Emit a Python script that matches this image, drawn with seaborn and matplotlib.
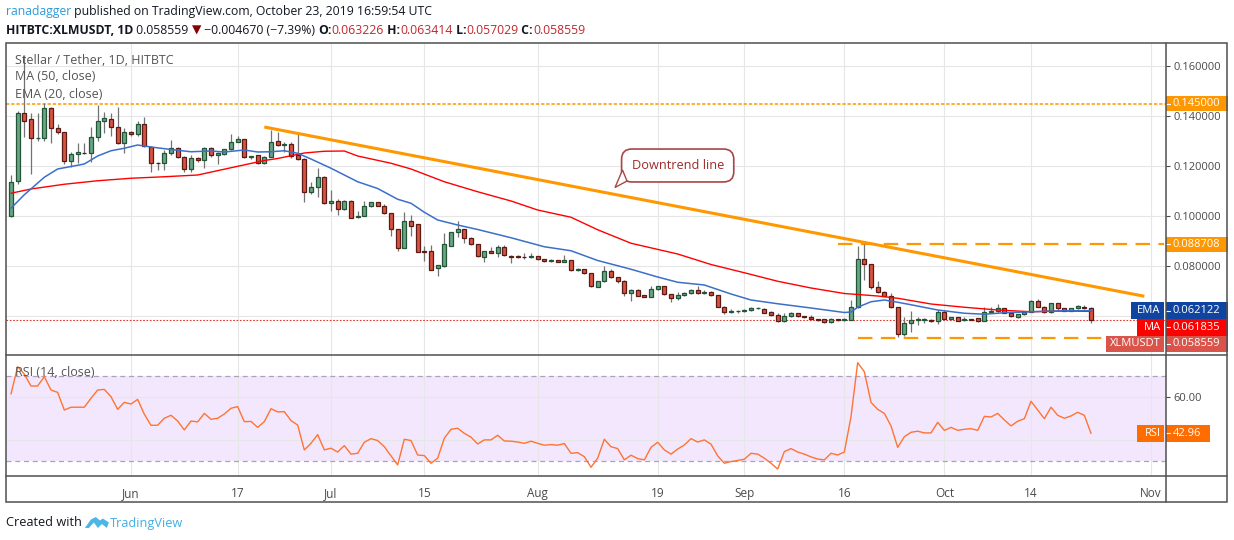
import matplotlib
matplotlib.use("Agg")
import numpy as np
import pandas as pd
import seaborn as sns
import matplotlib.pyplot as plt
import matplotlib.dates as mdates
from matplotlib.patches import Rectangle, Polygon
from matplotlib.lines import Line2D

# ---------------- data ----------------
first_day = "2019-05-14"

opens = [
    0.1000, 0.1140, 0.1411, 0.1387, 0.1311, 0.1314, 0.1431, 0.1351, 0.1335, 0.1220,
    0.1248, 0.1253, 0.1253, 0.1317, 0.1381, 0.1387, 0.1355, 0.1291, 0.1335, 0.1328,
    0.1368, 0.1275, 0.1213, 0.1211, 0.1251, 0.1271, 0.1237, 0.1187, 0.1233, 0.1224,
    0.1271, 0.1244, 0.1248, 0.1267, 0.1297, 0.1307, 0.1235, 0.1243, 0.1211, 0.1237,
    0.1300, 0.1284, 0.1288, 0.1244, 0.1227, 0.1095, 0.1117, 0.1155, 0.1051, 0.1060,
    0.1028, 0.1060, 0.0995, 0.1000, 0.1040, 0.1055, 0.1040, 0.1011, 0.0948, 0.0871,
    0.0980, 0.0967, 0.0861, 0.0860, 0.0791, 0.0800, 0.0881, 0.0935, 0.0948, 0.0913,
    0.0887, 0.0838, 0.0860, 0.0853, 0.0877, 0.0841, 0.0840, 0.0836, 0.0835, 0.0840,
    0.0827, 0.0820, 0.0823, 0.0817, 0.0824, 0.0784, 0.0788, 0.0771, 0.0718, 0.0740,
    0.0781, 0.0755, 0.0741, 0.0691, 0.0704, 0.0684, 0.0677, 0.0707, 0.0720, 0.0687,
    0.0671, 0.0684, 0.0691, 0.0704, 0.0691, 0.0697, 0.0684, 0.0637, 0.0615, 0.0619,
    0.0620, 0.0623, 0.0631, 0.0628, 0.0617, 0.0604, 0.0580, 0.0601, 0.0611, 0.0600,
    0.0595, 0.0587, 0.0587, 0.0576, 0.0587, 0.0584, 0.0585, 0.0635, 0.0827, 0.0807,
    0.0717, 0.0695, 0.0681, 0.0635, 0.0527, 0.0571, 0.0584, 0.0585, 0.0584, 0.0580,
    0.0617, 0.0587, 0.0595, 0.0584, 0.0587, 0.0591, 0.0581, 0.0617, 0.0620, 0.0631,
    0.0613, 0.0595, 0.0608, 0.0617, 0.0660, 0.0637, 0.0615, 0.0651, 0.0631, 0.0621,
    0.0631, 0.0637, 0.063226,
]
highs = [
    0.1164, 0.1421, 0.1644, 0.1411, 0.1411, 0.1453, 0.1435, 0.1367, 0.1337, 0.1257,
    0.1291, 0.1291, 0.1355, 0.1444, 0.1415, 0.1411, 0.1436, 0.1351, 0.1340, 0.1381,
    0.1397, 0.1280, 0.1215, 0.1264, 0.1304, 0.1277, 0.1241, 0.1244, 0.1237, 0.1277,
    0.1277, 0.1255, 0.1270, 0.1328, 0.1320, 0.1310, 0.1240, 0.1245, 0.1240, 0.1344,
    0.1337, 0.1297, 0.1295, 0.1333, 0.1234, 0.1137, 0.1191, 0.1160, 0.1104, 0.1067,
    0.1064, 0.1064, 0.1021, 0.1061, 0.1057, 0.1058, 0.1048, 0.1013, 0.0950, 0.1017,
    0.1004, 0.0968, 0.0880, 0.0884, 0.0806, 0.0931, 0.0937, 0.0980, 0.0950, 0.0917,
    0.0888, 0.0862, 0.0877, 0.0884, 0.0884, 0.0845, 0.0843, 0.0851, 0.0853, 0.0842,
    0.0830, 0.0827, 0.0826, 0.0844, 0.0826, 0.0791, 0.0790, 0.0773, 0.0741, 0.0800,
    0.0787, 0.0758, 0.0745, 0.0707, 0.0707, 0.0686, 0.0720, 0.0722, 0.0722, 0.0689,
    0.0697, 0.0697, 0.0707, 0.0720, 0.0704, 0.0699, 0.0686, 0.0639, 0.0627, 0.0624,
    0.0627, 0.0636, 0.0637, 0.0631, 0.0619, 0.0611, 0.0611, 0.0615, 0.0613, 0.0602,
    0.0604, 0.0589, 0.0589, 0.0591, 0.0589, 0.0591, 0.0664, 0.0880, 0.0888, 0.0810,
    0.0740, 0.0701, 0.0691, 0.0637, 0.0597, 0.0620, 0.0595, 0.0591, 0.0587, 0.0624,
    0.0624, 0.0597, 0.0597, 0.0595, 0.0589, 0.0593, 0.0635, 0.0635, 0.0648, 0.0633,
    0.0615, 0.0610, 0.0619, 0.0664, 0.0667, 0.0639, 0.0653, 0.0653, 0.0633, 0.0633,
    0.0644, 0.0646, 0.063414,
]
lows = [
    0.0996, 0.1130, 0.1317, 0.1168, 0.1300, 0.1300, 0.1291, 0.1330, 0.1208, 0.1197,
    0.1213, 0.1248, 0.1217, 0.1300, 0.1331, 0.1320, 0.1288, 0.1251, 0.1320, 0.1320,
    0.1275, 0.1177, 0.1184, 0.1184, 0.1244, 0.1231, 0.1177, 0.1177, 0.1215, 0.1191,
    0.1237, 0.1210, 0.1244, 0.1264, 0.1296, 0.1231, 0.1230, 0.1208, 0.1208, 0.1235,
    0.1280, 0.1257, 0.1231, 0.1225, 0.1057, 0.1088, 0.1077, 0.1048, 0.1021, 0.1004,
    0.1024, 0.0991, 0.0993, 0.1000, 0.1037, 0.1040, 0.1008, 0.0920, 0.0861, 0.0871,
    0.0921, 0.0857, 0.0821, 0.0784, 0.0760, 0.0797, 0.0880, 0.0917, 0.0891, 0.0884,
    0.0837, 0.0817, 0.0850, 0.0837, 0.0841, 0.0811, 0.0833, 0.0829, 0.0833, 0.0825,
    0.0818, 0.0818, 0.0815, 0.0815, 0.0782, 0.0780, 0.0769, 0.0717, 0.0715, 0.0738,
    0.0751, 0.0731, 0.0680, 0.0661, 0.0680, 0.0675, 0.0675, 0.0705, 0.0685, 0.0657,
    0.0664, 0.0681, 0.0690, 0.0689, 0.0690, 0.0681, 0.0635, 0.0607, 0.0613, 0.0611,
    0.0618, 0.0620, 0.0628, 0.0611, 0.0601, 0.0578, 0.0578, 0.0598, 0.0597, 0.0593,
    0.0585, 0.0580, 0.0574, 0.0574, 0.0582, 0.0581, 0.0583, 0.0633, 0.0744, 0.0707,
    0.0693, 0.0679, 0.0633, 0.0515, 0.0520, 0.0537, 0.0564, 0.0573, 0.0576, 0.0567,
    0.0585, 0.0585, 0.0579, 0.0581, 0.0583, 0.0576, 0.0579, 0.0613, 0.0618, 0.0611,
    0.0598, 0.0593, 0.0606, 0.0615, 0.0635, 0.0611, 0.0613, 0.0624, 0.0619, 0.0619,
    0.0629, 0.0630, 0.057029,
]
closes = [
    0.1137, 0.1411, 0.1381, 0.1311, 0.1314, 0.1431, 0.1351, 0.1335, 0.1221, 0.1247,
    0.1256, 0.1251, 0.1317, 0.1381, 0.1391, 0.1355, 0.1291, 0.1337, 0.1327, 0.1368,
    0.1280, 0.1213, 0.1211, 0.1251, 0.1271, 0.1237, 0.1187, 0.1233, 0.1224, 0.1273,
    0.1244, 0.1251, 0.1267, 0.1297, 0.1307, 0.1235, 0.1239, 0.1211, 0.1235, 0.1297,
    0.1284, 0.1290, 0.1241, 0.1227, 0.1095, 0.1117, 0.1155, 0.1051, 0.1060, 0.1028,
    0.1060, 0.0993, 0.1000, 0.1040, 0.1055, 0.1041, 0.1011, 0.0947, 0.0871, 0.0980,
    0.0961, 0.0857, 0.0858, 0.0784, 0.0804, 0.0887, 0.0935, 0.0948, 0.0911, 0.0887,
    0.0841, 0.0860, 0.0853, 0.0877, 0.0844, 0.0837, 0.0835, 0.0835, 0.0840, 0.0827,
    0.0820, 0.0823, 0.0817, 0.0824, 0.0784, 0.0788, 0.0771, 0.0720, 0.0740, 0.0781,
    0.0755, 0.0741, 0.0691, 0.0704, 0.0681, 0.0677, 0.0707, 0.0720, 0.0687, 0.0671,
    0.0684, 0.0693, 0.0704, 0.0691, 0.0696, 0.0684, 0.0637, 0.0615, 0.0620, 0.0621,
    0.0623, 0.0631, 0.0633, 0.0613, 0.0604, 0.0580, 0.0601, 0.0612, 0.0600, 0.0595,
    0.0587, 0.0583, 0.0576, 0.0587, 0.0584, 0.0585, 0.0635, 0.0827, 0.0807, 0.0717,
    0.0695, 0.0681, 0.0635, 0.0527, 0.0571, 0.0584, 0.0587, 0.0586, 0.0580, 0.0617,
    0.0587, 0.0595, 0.0581, 0.0587, 0.0585, 0.0581, 0.0617, 0.0620, 0.0631, 0.0613,
    0.0600, 0.0608, 0.0617, 0.0660, 0.0637, 0.0617, 0.0651, 0.0631, 0.0621, 0.0631,
    0.0639, 0.063226, 0.058559,
]
rsi = [
    61.5, 74.4, 70.9, 65.3, 65.3, 69.7, 63.4, 62.3, 54.0, 55.3,
    55.3, 55.3, 59.5, 63.4, 63.7, 60.3, 54.3, 57.6, 56.8, 59.0,
    52.0, 46.8, 46.8, 50.1, 51.5, 48.8, 44.6, 48.8, 48.4, 52.4,
    49.6, 50.1, 52.1, 54.8, 55.6, 48.5, 48.6, 45.8, 48.5, 54.6,
    53.1, 53.2, 49.0, 46.9, 35.2, 38.3, 42.4, 35.2, 36.0, 34.2,
    37.2, 33.2, 33.6, 38.8, 40.5, 39.6, 36.7, 32.4, 28.1, 40.2,
    39.6, 32.8, 32.5, 28.9, 31.3, 40.7, 44.9, 45.4, 43.0, 41.2,
    38.0, 39.9, 39.9, 42.1, 39.4, 39.3, 38.9, 38.3, 39.3, 38.3,
    37.4, 37.7, 37.4, 38.2, 33.6, 33.9, 32.0, 27.0, 31.3, 40.2,
    36.7, 35.8, 30.5, 32.7, 31.1, 30.5, 36.4, 38.8, 35.2, 33.2,
    35.6, 37.5, 40.5, 38.9, 39.9, 37.9, 32.4, 28.9, 29.7, 30.2,
    30.8, 33.6, 33.2, 31.3, 28.9, 26.2, 34.4, 35.8, 34.2, 33.2,
    31.9, 30.9, 30.5, 33.6, 32.8, 34.2, 50.9, 76.3, 72.0, 57.6,
    54.3, 52.4, 46.5, 36.4, 41.4, 43.5, 44.0, 43.2, 43.2, 48.2,
    44.4, 45.8, 44.4, 44.9, 45.2, 44.4, 51.0, 50.7, 52.4, 49.3,
    46.5, 48.7, 49.9, 58.1, 54.0, 49.9, 55.3, 51.5, 50.1, 51.2,
    52.9, 51.5, 42.96,
]

# day index (from first_day) and value of the plotted averages
ema_day = [0, 2, 5, 7, 11, 13, 15, 17, 19, 21, 24, 27, 30, 32, 35, 37, 39, 41, 43, 45,
           48, 52, 55, 58, 60, 62, 64, 67, 70, 75, 80, 84, 88, 93, 97, 100, 104, 108,
           111, 115, 120, 125, 126, 127, 129, 131, 133, 135, 139, 143, 146, 149, 153,
           158, 162]
ema_val = [0.1031, 0.1085, 0.1155, 0.1188, 0.1208, 0.1240, 0.1261, 0.1271, 0.1284, 0.1276,
           0.1266, 0.1257, 0.1260, 0.1256, 0.1264, 0.1256, 0.1257, 0.1261, 0.1251, 0.1228,
           0.1191, 0.1137, 0.1110, 0.1067, 0.1051, 0.1015, 0.0984, 0.0964, 0.0946, 0.0913,
           0.0877, 0.0861, 0.0822, 0.0787, 0.0756, 0.0735, 0.0724, 0.0688, 0.0664, 0.0649,
           0.0632, 0.0614, 0.0616, 0.0635, 0.0657, 0.0664, 0.0655, 0.0645, 0.0624, 0.0611,
           0.0607, 0.0613, 0.0617, 0.0621, 0.062122]
ma_day = [0, 3, 8, 13, 18, 23, 28, 33, 38, 40, 44, 47, 50, 52, 57, 60, 65, 70, 75, 79,
          84, 88, 93, 100, 105, 110, 115, 120, 125, 128, 130, 133, 138, 143, 148, 153,
          158, 162]
ma_val = [0.1091, 0.1108, 0.1127, 0.1141, 0.1151, 0.1157, 0.1164, 0.1193, 0.1222, 0.1230,
          0.1252, 0.1259, 0.1260, 0.1240, 0.1211, 0.1188, 0.1137, 0.1097, 0.1060, 0.1024,
          0.0995, 0.0945, 0.0891, 0.0848, 0.0806, 0.0773, 0.0739, 0.0712, 0.0690, 0.0684,
          0.0680, 0.0671, 0.0648, 0.0635, 0.0624, 0.0617, 0.0620, 0.061835]

resistance = 0.145
spike_high = 0.088708
spike_days = ["2019-09-15", "2019-11-03"]
support = 0.0512
support_days = ["2019-09-18", "2019-10-25"]
trend_days = ["2019-06-21", "2019-10-31"]
trend_vals = [0.1356, 0.0679]

tick_days = ["2019-06-01", "2019-06-17", "2019-07-01", "2019-07-15", "2019-08-01",
             "2019-08-19", "2019-09-01", "2019-09-16", "2019-10-01", "2019-10-14",
             "2019-11-01"]
tick_labels = ["Jun", "17", "Jul", "15", "Aug", "19", "Sep", "16", "Oct", "14", "Nov"]
price_ticks = [0.06, 0.08, 0.10, 0.12, 0.14, 0.16]
rsi_ticks = [40, 60]

# ---------------- figure ----------------
sns.set_theme(style="white")
plt.rcParams["font.family"] = ["Open Sans", "DejaVu Sans"]

W, H = 1234, 540
fig = plt.figure(figsize=(W / 100, H / 100), dpi=100)
fig.patch.set_facecolor("white")

L, R, RR = 6.3, 1165.7, 1227
top, mid, bot, base = 43, 355, 476, 502
ax = fig.add_axes([L / W, 1 - mid / H, (R - L) / W, (mid - top) / H])
rax = fig.add_axes([L / W, 1 - bot / H, (R - L) / W, (bot - mid) / H], sharex=ax)

dates = pd.date_range(first_day, periods=len(closes), freq="D")
x = np.asarray(mdates.date2num(dates))
d2n = lambda s: mdates.date2num(pd.Timestamp(s))

GREEN, GREEN_EDGE = "#6ba583", "#225437"
RED, RED_EDGE = "#d75442", "#5b1a13"
GRID = "#e6e6e6"
TXT = "#4a4a4a"

# candles
up = [c >= o for o, c in zip(opens, closes)]
body_lo = [min(o, c) for o, c in zip(opens, closes)]
body_h = [max(abs(c - o), 0.0003) for o, c in zip(opens, closes)]
ax.vlines(x, lows, highs, color="#737375", lw=0.9, zorder=3)
ax.bar(x, body_h, bottom=body_lo, width=0.64,
       color=[GREEN if u else RED for u in up],
       edgecolor=[GREEN_EDGE if u else RED_EDGE for u in up],
       linewidth=0.9, zorder=4)

# moving averages
sns.lineplot(x=x[ma_day], y=ma_val, ax=ax, color="#ff0000", lw=1.0, zorder=5, sort=False)
sns.lineplot(x=x[ema_day], y=ema_val, ax=ax, color="#3b6fc9", lw=1.1, zorder=5, sort=False)

# drawings
ax.axhline(resistance, color="#ff9800", lw=1.1, dashes=(2.2, 1.2), zorder=2)
ax.hlines(spike_high, d2n(spike_days[0]), d2n(spike_days[1]), color="#ff9800",
          lw=1.6, linestyles=(0, (6.5, 3.8)), zorder=2)
ax.hlines(support, d2n(support_days[0]), d2n(support_days[1]), color="#ff9800",
          lw=1.6, linestyles=(0, (6.5, 3.8)), zorder=2)
ax.plot([d2n(d) for d in trend_days], trend_vals, color="#ff9800", lw=2.2,
        solid_capstyle="butt", zorder=6)
ax.axhline(closes[-1], color="#e0372c", lw=0.8, dashes=(1.5, 1.5), zorder=2)

ax.text(x[100], 0.1202, "Downtrend line", ha="center", va="center", fontsize=9.2,
        color="#9e2a2b", zorder=8,
        bbox=dict(boxstyle="round,pad=0.78,rounding_size=0.8", fc="white",
                  ec="#a84646", lw=1.2))


def px(xp, yp):
    return (xp / W, 1 - yp / H)


tail = Polygon([px(622.5, 170), px(615, 187.5), px(627, 181)], closed=True,
               fc="white", ec="#a84646", lw=1.0, transform=fig.transFigure, zorder=20)
fig.add_artist(tail)

# RSI pane
rax.axhspan(30, 70, color="#f3e7fd", zorder=0.2, lw=0)
for lvl in (70, 30):
    rax.axhline(lvl, color="#aaa3b5", lw=0.9, dashes=(4, 3), zorder=1)
sns.lineplot(x=x, y=rsi, ax=rax, color="#ff7433", lw=1.0, zorder=5)

# axes, limits, ticks
ax.set_xlim(x[0] - 0.7, x[0] + 173.2)
ax.set_ylim(0.0444, 0.1692)
rax.set_ylim(22.9, 79.9)

tx = [d2n(d) for d in tick_days]
rax.set_xticks(tx)
rax.set_xticklabels(tick_labels)
for a in (ax, rax):
    a.set_facecolor("white")
    a.set_axisbelow(True)
    a.grid(True, color=GRID, lw=0.8)
    for s in a.spines.values():
        s.set_visible(False)
    a.yaxis.tick_right()
    a.tick_params(axis="y", direction="out", length=3, width=0.8, color=TXT,
                  pad=2.5, labelsize=8, labelcolor=TXT)
    a.set_xlabel("")
    a.set_ylabel("")
ax.tick_params(axis="x", length=0, labelbottom=False)
rax.tick_params(axis="x", direction="out", length=3, width=0.8, color=TXT, pad=5,
                labelsize=8.5, labelcolor=TXT)
# the 0.06 and 40 levels sit under the value boxes, so only their grid lines show
ax.set_yticks(price_ticks)
ax.set_yticklabels(["" if v == 0.06 else f"{v:.6f}" for v in price_ticks])
rax.set_yticks(rsi_ticks)
rax.set_yticklabels(["" if v == 40 else f"{v:.2f}" for v in rsi_ticks])

# price scale labels
pane_w = R - L


def scale_box(a, y, text, color, h_units, name=None, name_w=0, val_w=61.3):
    tr = a.get_yaxis_transform()
    a.add_patch(Rectangle((1.0 + 0.6 / pane_w, y - h_units / 2), val_w / pane_w, h_units,
                          transform=tr, fc=color, ec="none", clip_on=False, zorder=10))
    a.add_line(Line2D([1.0, 1.0 + 4 / pane_w], [y, y], transform=tr, color="white",
                      lw=0.8, clip_on=False, zorder=11))
    a.text(1.0 + 7 / pane_w, y, text, transform=tr, color="white", fontsize=8,
           va="center", ha="left", zorder=11, clip_on=False)
    if name:
        a.add_patch(Rectangle((1.0 - (name_w + 1.7) / pane_w, y - h_units / 2),
                              name_w / pane_w, h_units, transform=tr, fc=color,
                              ec="none", clip_on=False, zorder=10))
        a.text(1.0 - 5 / pane_w, y, name, transform=tr, color="white", fontsize=8,
               va="center", ha="right", zorder=11, clip_on=False)


unit = 1 / 2500  # price per pixel
scale_box(ax, resistance, "0.145000", "#ff9800", 14.7 * unit)
scale_box(ax, spike_high, "0.088708", "#ff9800", 14.7 * unit)
stack_h = 16.6 * unit
y_ema = ema_val[-1]
y_ma = min(ma_val[-1], y_ema - stack_h)
y_px = min(closes[-1], y_ma - stack_h)
scale_box(ax, y_ema, f"{ema_val[-1]:.6f}", "#0f45a0", stack_h, "EMA", 33)
scale_box(ax, y_ma, f"{ma_val[-1]:.6f}", "#ff0000", stack_h, "MA", 27.3)
scale_box(ax, y_px, f"{closes[-1]:.6f}", "#d9544a", stack_h, "XLMUSDT", 58)
scale_box(rax, rsi[-1], f"{rsi[-1]:.2f}", "#ff6d00", 16.7 / 2.125, "RSI", 27.3, 43.5)

# pane legends
LEG = 9.0
ax.text(9 / pane_w, 1 - (60 - top) / (mid - top), "Stellar / Tether, 1D, HITBTC",
        transform=ax.transAxes, fontsize=LEG, color="#555555", va="center")
ax.text(9 / pane_w, 1 - (77 - top) / (mid - top), "MA (50, close)",
        transform=ax.transAxes, fontsize=LEG, color="#555555", va="center")
ax.text(9 / pane_w, 1 - (94 - top) / (mid - top), "EMA (20, close)",
        transform=ax.transAxes, fontsize=LEG, color="#555555", va="center")
rax.text(9 / pane_w, 1 - (373 - mid) / (bot - mid), "RSI (14, close)",
         transform=rax.transAxes, fontsize=LEG, color="#555555", va="center", zorder=9)

# frame
FRAME = "#505050"
fig.add_artist(Rectangle(px(L, base), (RR - L) / W, (base - top) / H, fill=False,
                         ec=FRAME, lw=1.1, transform=fig.transFigure))
for yy in (mid, bot):
    fig.add_artist(Line2D([L / W, RR / W], [1 - yy / H] * 2, color=FRAME, lw=1.1,
                          transform=fig.transFigure))
fig.add_artist(Line2D([R / W] * 2, [1 - top / H, 1 - base / H], color=FRAME, lw=1.1,
                      transform=fig.transFigure))

# header and footer text runs
renderer = fig.canvas.get_renderer()


def runs(x0, y0, parts, size=8.8):
    xx = x0
    for s, color, weight in parts:
        t = fig.text(xx / W, 1 - y0 / H, s, color=color, fontsize=size,
                     fontweight=weight, va="center", ha="left")
        xx += t.get_window_extent(renderer=renderer).width
    return xx


BLK = "#131722"
DRED = "#c0272d"
runs(6, 12, [("ranadagger", "#2c9ad8", "normal"),
             (" published on TradingView.com, October 23, 2019 16:59:54 UTC", BLK, "normal")])
runs(6, 30, [("HITBTC:XLMUSDT, 1D", BLK, "bold"), (" 0.058559 ", BLK, "normal"),
             ("▼", "#8b0000", "normal"), (" \u22120.004670 (\u22127.39%) ", BLK, "normal"),
             ("O:", BLK, "bold"), ("0.063226", DRED, "normal"),
             (" H:", BLK, "bold"), ("0.063414", DRED, "normal"),
             (" L:", BLK, "bold"), ("0.057029", DRED, "normal"),
             (" C:", BLK, "bold"), ("0.058559", DRED, "normal")])

end = runs(6, 523, [("Created with", BLK, "normal")], size=9.2)
lx = end + 3
logo = Polygon([px(lx, 528), px(lx + 6, 519.5), px(lx + 11, 517), px(lx + 15, 520.5),
                px(lx + 18, 518.5), px(lx + 24, 522.5), px(lx + 22, 528), px(lx + 17, 524),
                px(lx + 13, 528), px(lx + 9, 522.5), px(lx + 4, 528)], closed=True,
               fc="#4db6e8", ec="none", transform=fig.transFigure)
fig.add_artist(logo)
runs(lx + 25, 523, [("TradingView", "#42aee3", "normal")], size=9.2)

fig.savefig("out.png", dpi=100, facecolor="white")
